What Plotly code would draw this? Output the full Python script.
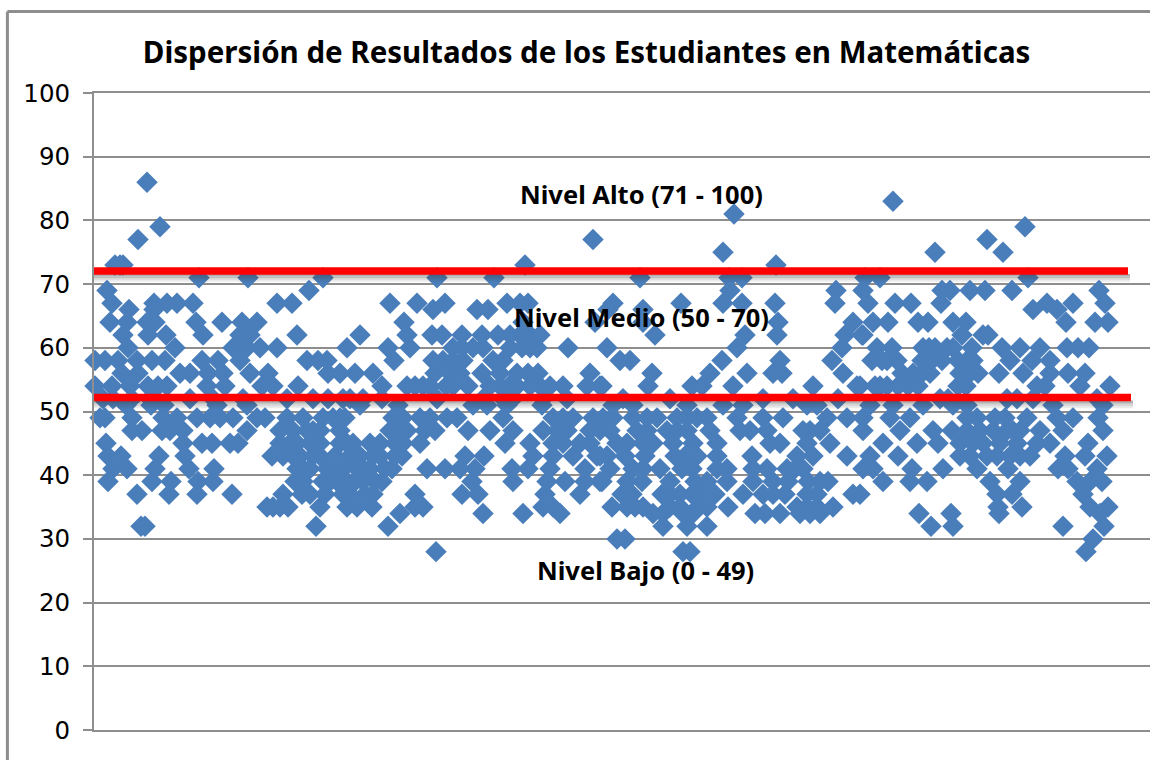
import plotly.graph_objects as go

# Puntaje -> posiciones de los estudiantes
nota_86 = [53]
nota_83 = [799]
nota_81 = [640]
nota_79 = [66, 931]
nota_77 = [44, 499, 893]
nota_75 = [629, 841, 909]
nota_73 = [21, 26, 29, 431, 682]
nota_71 = [105, 154, 229, 343, 400, 546, 635, 648, 771, 786, 934]
nota_69 = [13, 215, 636, 742, 769, 848, 856, 876, 891, 918, 1005]
nota_67 = [18, 60, 73, 83, 99, 183, 198, 296, 323, 351, 413, 426, 434, 519, 587, 629, 648, 681, 741, 774, 801, 817, 847, 953, 979, 1011]
nota_66 = [35, 60, 339, 383, 394, 514, 549, 939, 963]
nota_64 = [16, 33, 53, 61, 102, 128, 148, 163, 310, 429, 501, 549, 684, 759, 779, 794, 824, 834, 859, 872, 972, 1001, 1014]
nota_62 = [29, 54, 72, 109, 146, 156, 203, 266, 313, 338, 348, 368, 388, 404, 416, 426, 436, 446, 561, 651, 683, 751, 769, 768, 868, 889, 894]
nota_60 = [34, 81, 139, 153, 166, 183, 253, 294, 316, 359, 368, 379, 389, 416, 428, 436, 443, 474, 513, 643, 748, 783, 798, 829, 835, 841, 853, 859, 878, 908, 926, 946, 973, 984, 995]
nota_58 = [1, 11, 24, 43, 58, 71, 108, 124, 146, 213, 224, 233, 300, 339, 349, 359, 369, 399, 409, 526, 536, 628, 686, 738, 778, 788, 793, 803, 828, 838, 848, 864, 873, 879, 916, 938, 956]
nota_56 = [28, 44, 86, 96, 114, 129, 156, 174, 234, 246, 261, 279, 341, 356, 366, 388, 406, 423, 434, 444, 496, 558, 616, 653, 679, 688, 749, 808, 819, 828, 836, 866, 876, 884, 905, 929, 956, 974, 991]
nota_54 = [1, 18, 36, 54, 64, 73, 113, 131, 168, 179, 204, 288, 313, 321, 329, 336, 352, 359, 374, 396, 406, 415, 423, 436, 446, 456, 469, 493, 508, 506, 554, 598, 608, 639, 719, 763, 766, 781, 786, 793, 804, 814, 824, 864, 872, 943, 951, 986, 1016]
nota_52 = [9, 19, 38, 56, 96, 119, 149, 193, 219, 234, 249, 256, 269, 288, 343, 389, 409, 419, 449, 473, 529, 576, 669, 699, 744, 846, 854, 913, 923, 939, 1003]
nota_51 = [32, 57, 70, 123, 153, 266, 304, 379, 393, 413, 448, 519, 539, 593, 629, 649, 713, 723, 776, 799, 829, 859, 873, 959, 1009]
nota_49 = [6, 11, 38, 69, 83, 103, 116, 126, 139, 163, 171, 193, 209, 229, 239, 246, 251, 299, 309, 326, 336, 353, 363, 409, 459, 469, 479, 499, 509, 519, 539, 553, 563, 583, 593, 603, 613, 643, 669, 689, 733, 753, 769, 796, 816, 873, 883, 901, 911, 933, 963, 979, 1004]
nota_47 = [38, 48, 68, 76, 89, 153, 186, 199, 213, 219, 226, 246, 296, 303, 313, 331, 341, 374, 396, 419, 449, 463, 473, 496, 506, 516, 543, 553, 573, 583, 593, 616, 646, 656, 673, 709, 716, 726, 769, 806, 839, 858, 873, 886, 899, 913, 919, 926, 946, 969, 1009]
nota_45 = [12, 89, 108, 118, 136, 144, 186, 196, 203, 216, 226, 246, 253, 259, 276, 286, 301, 309, 326, 411, 436, 459, 469, 486, 496, 523, 533, 549, 559, 579, 599, 623, 676, 686, 713, 736, 789, 823, 844, 866, 879, 889, 906, 923, 943, 956, 994]
nota_43 = [14, 27, 65, 91, 178, 189, 199, 206, 219, 226, 241, 256, 266, 279, 286, 301, 308, 371, 390, 439, 459, 479, 503, 506, 513, 531, 551, 581, 591, 603, 623, 658, 703, 719, 753, 776, 804, 866, 876, 893, 903, 916, 926, 936, 971, 991, 1013]
nota_41 = [19, 33, 61, 95, 120, 203, 209, 216, 233, 241, 249, 263, 269, 276, 291, 298, 333, 351, 366, 381, 418, 434, 456, 491, 516, 539, 549, 566, 588, 598, 623, 633, 659, 673, 693, 701, 709, 769, 779, 818, 849, 883, 914, 964, 974, 1003]
nota_39 = [14, 58, 77, 104, 119, 201, 209, 229, 236, 243, 253, 261, 269, 281, 288, 378, 419, 453, 471, 491, 508, 506, 533, 548, 576, 601, 613, 633, 659, 679, 694, 714, 726, 734, 789, 816, 833, 896, 926, 983, 996, 1008]
nota_37 = [43, 75, 103, 138, 189, 208, 216, 231, 249, 256, 271, 279, 321, 368, 384, 451, 486, 528, 538, 568, 576, 586, 598, 608, 621, 649, 669, 679, 691, 713, 723, 759, 766, 903, 918, 989]
nota_35 = [173, 179, 186, 194, 226, 253, 263, 278, 321, 329, 449, 459, 518, 533, 541, 549, 576, 586, 604, 613, 634, 703, 713, 723, 739, 904, 928, 996, 1014]
nota_34 = [306, 389, 429, 466, 559, 569, 589, 599, 661, 671, 686, 706, 716, 726, 825, 857, 905, 1006]
nota_32 = [47, 51, 222, 294, 569, 593, 613, 837, 859, 969, 1010]
nota_30 = [523, 531, 999]
nota_28 = [342, 589, 596, 992]

notas = {86: nota_86, 83: nota_83, 81: nota_81, 79: nota_79, 77: nota_77, 75: nota_75, 73: nota_73,
         71: nota_71, 69: nota_69, 67: nota_67, 66: nota_66, 64: nota_64, 62: nota_62, 60: nota_60,
         58: nota_58, 56: nota_56, 54: nota_54, 52: nota_52, 51: nota_51, 49: nota_49, 47: nota_47,
         45: nota_45, 43: nota_43, 41: nota_41, 39: nota_39, 37: nota_37, 35: nota_35, 34: nota_34,
         32: nota_32, 30: nota_30, 28: nota_28}

limites = [72.05, 52.2]
ticks_y = [0, 10, 20, 30, 40, 50, 60, 70, 80, 90, 100]
titulo = "Dispersión de Resultados de los Estudiantes en Matemáticas"
niveles = ["Nivel Alto (71 - 100)", "Nivel Medio (50 - 70)", "Nivel Bajo (0 - 49)"]
niveles_x = [547, 547, 551]
niveles_y = [84.1, 64.9, 25.1]

xs = [x for n, lista in notas.items() for x in lista]
ys = [n for n, lista in notas.items() for x in lista]

fig = go.Figure()
fig.add_trace(go.Scatter(
    x=xs, y=ys, mode="markers", cliponaxis=False,
    marker=dict(symbol="diamond", size=16.5, color="#4a7ebb", line=dict(width=0)),
    showlegend=False, hoverinfo="x+y",
))

shapes = []
# marco del grafico
shapes.append(dict(type="line", xref="paper", yref="paper", x0=-0.082, x1=-0.082, y0=-0.1, y1=1.128,
                   line=dict(color="#8e8e8e", width=3)))
shapes.append(dict(type="line", xref="paper", yref="paper", x0=-0.082, x1=1.0, y0=1.128, y1=1.128,
                   line=dict(color="#8e8e8e", width=3)))
# lineas rojas con su sombra
for lim, fin in zip(limites, [1034, 1037]):
    for i, alpha in enumerate([0.4, 0.3, 0.2, 0.1]):
        shapes.append(dict(type="line", x0=-26, x1=fin + 2, y0=lim - 0.62 - 0.3 * i, y1=lim - 0.62 - 0.3 * i,
                           line=dict(color=f"rgba(60,60,60,{alpha})", width=2)))
    shapes.append(dict(type="line", x0=-28, x1=fin, y0=lim, y1=lim, line=dict(color="#ff0000", width=7.5)))

fig.update_layout(
    width=1150, height=760, autosize=False,
    margin=dict(l=94, r=0, t=93, b=30),
    paper_bgcolor="white", plot_bgcolor="white",
    font=dict(family="DejaVu Sans", color="black"),
    title=dict(text=titulo, x=0.4665, xanchor="center", xref="paper", y=0.931, yanchor="middle",
               font=dict(family="Noto Sans", size=29.5, color="black", weight="bold")),
    xaxis=dict(range=[0, 1056], showgrid=False, zeroline=False, showticklabels=False, ticks="",
               showline=True, mirror=True, linecolor="#8e8e8e", linewidth=2),
    yaxis=dict(range=[0, 100], tickvals=ticks_y, showgrid=True, gridcolor="#8e8e8e", gridwidth=2,
               zeroline=False, showline=True, linecolor="#8e8e8e", linewidth=2,
               ticks="outside", ticklen=9, tickwidth=2, tickcolor="#8e8e8e", ticklabelstandoff=8,
               tickfont=dict(size=24.5, family="DejaVu Sans", color="black")),
    shapes=shapes,
)
for texto, x, y in zip(niveles, niveles_x, niveles_y):
    fig.add_annotation(x=x, y=y, text=texto, showarrow=False,
                       font=dict(family="Noto Sans", size=25.5, color="black", weight="bold"))

fig.write_html("out.html", config={"displayModeBar": False},
               post_script="document.body.style.margin='0';document.body.style.overflow='hidden';")
